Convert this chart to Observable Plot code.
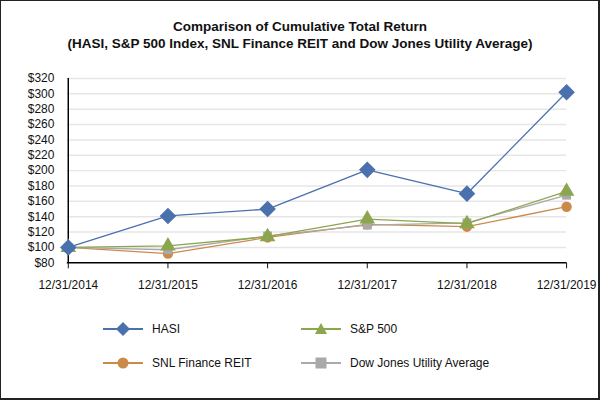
<!DOCTYPE html>
<html><head><meta charset="utf-8">
<script src="https://cdn.jsdelivr.net/npm/d3@7"></script>
<script src="https://cdn.jsdelivr.net/npm/@observablehq/plot@0.6"></script>
<style>
html,body{margin:0;padding:0;background:#fff;}
#frame{position:relative;width:600px;height:400px;box-sizing:border-box;border:1px solid #222;border-right-width:2px;border-bottom-width:2px;font-family:"Liberation Sans",Arial,sans-serif;overflow:hidden;}
#title{position:absolute;top:17px;left:0;width:598px;text-align:center;font-weight:bold;font-size:13.5px;line-height:17px;color:#111;}
#chart{position:absolute;top:59px;left:-1px;}
#legend{position:absolute;left:0;top:0;width:600px;height:400px;pointer-events:none;}
.li{position:absolute;display:flex;align-items:center;font-size:12px;color:#111;}
.li svg{margin-right:9px;}
</style></head>
<body><div id="frame">
<div id="title">Comparison of Cumulative Total Return<br>(HASI, S&amp;P 500 Index, SNL Finance REIT and Dow Jones Utility Average)</div>
<div id="chart"></div>
<div id="legend"></div>
</div>
<script>
const years = ["12/31/2014","12/31/2015","12/31/2016","12/31/2017","12/31/2018","12/31/2019"];
const hasi = [100, 141, 150, 201, 170, 302];
const sp500 = [100, 102, 114, 137, 131, 173];
const snl = [100, 92, 113, 130, 127, 153];
const dju = [100, 97, 115, 129, 132, 168];
const yTicks = [80,100,120,140,160,180,200,220,240,260,280,300,320];

const series = [
  {name:"SNL Finance REIT", values:snl, color:"#CC8A4A", symbol:"circle", r:5.2},
  {name:"Dow Jones Utility Average", values:dju, color:"#A9A9A9", symbol:"square", r:5},
  {name:"S&P 500", values:sp500, color:"#8CA64F", symbol:"triangle", r:5.8},
  {name:"HASI", values:hasi, color:"#4A70AE", symbol:"diamond2", r:7.5}
];
const data = series.flatMap(s => s.values.map((v,i)=>({series:s.name, year:years[i], value:v})));

const marks = [
  Plot.ruleY(yTicks.slice(1), {stroke:"#e6e6e6", strokeWidth:1.5}),
  Plot.axisY({ticks:yTicks, tickSize:0, tickPadding:13, tickFormat:d=>"$"+d, fontSize:12, fill:"#111"}),
  Plot.axisX({tickSize:6, tickPadding:12, fontSize:12, fill:"#111"}),
  Plot.ruleX([years[0]], {stroke:"#000", strokeWidth:1.5}),
  Plot.ruleY([80], {stroke:"#000", strokeWidth:1.5})
];
for (const s of series) {
  const d = data.filter(o=>o.series===s.name);
  marks.push(Plot.line(d, {x:"year", y:"value", stroke:s.color, strokeWidth:1.3}));
}
for (const s of series) {
  const d = data.filter(o=>o.series===s.name);
  marks.push(Plot.dot(d, {x:"year", y:"value", fill:s.color, symbol:s.symbol, r:s.r, stroke:"none"}));
}

const chart = Plot.plot({
  width:600, height:240,
  marginLeft:67, marginRight:32, marginTop:18, marginBottom:37,
  style:{fontFamily:"'Liberation Sans', Arial, sans-serif", color:"#111", background:"transparent"},
  x:{type:"point", domain:years, padding:0, label:null},
  y:{domain:[80,320], label:null},
  marks
});
document.getElementById("chart").appendChild(chart);

// legend
const legendPos = {
  "HASI":[102,328], "S&P 500":[300,328],
  "SNL Finance REIT":[102,362], "Dow Jones Utility Average":[300,362]
};
const symPath = {
  diamond2: '<path d="M20 1 L27 8 L20 15 L13 8 Z"/>',
  triangle: '<path d="M20 2 L26 13 L14 13 Z"/>',
  circle: '<circle cx="20" cy="8" r="5.5"/>',
  square: '<rect x="14.5" y="2.5" width="11" height="11"/>'
};
const leg = document.getElementById("legend");
for (const s of series) {
  const [x,y] = legendPos[s.name];
  const div = document.createElement("div");
  div.className="li";
  div.style.left = x+"px"; div.style.top = (y-8)+"px";
  div.innerHTML = `<svg width="40" height="16"><line x1="0" x2="40" y1="8" y2="8" stroke="${s.color}" stroke-width="2"/><g fill="${s.color}">${symPath[s.symbol]}</g></svg><span>${s.name}</span>`;
  leg.appendChild(div);
}
</script>
</body></html>
